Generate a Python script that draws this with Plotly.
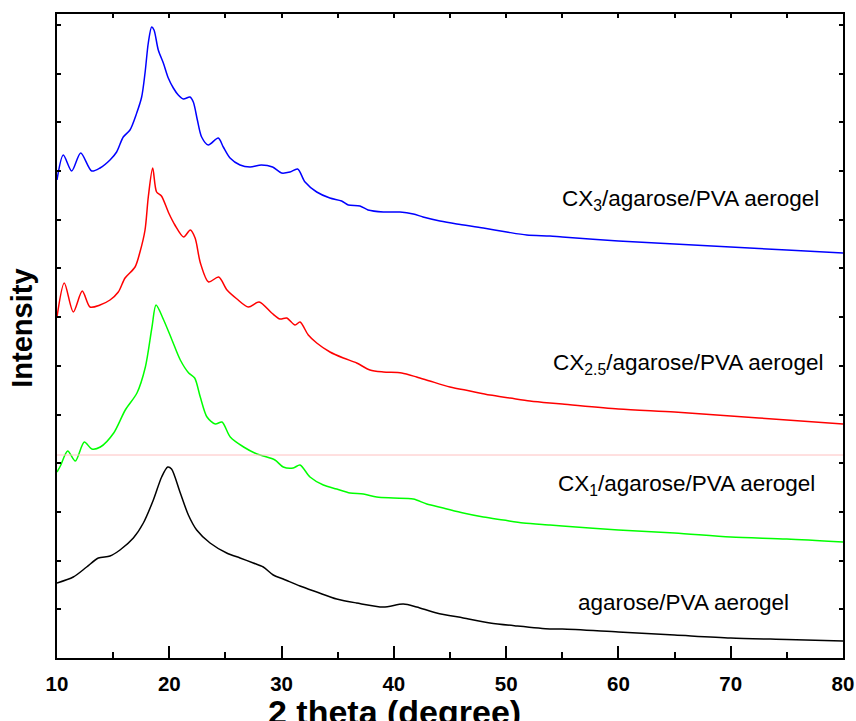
import plotly.graph_objects as go

# ---- data (2 theta in degrees, intensity in arbitrary units) ----
blue_x = [10.0, 10.56, 11.31, 12.11, 13.09, 13.83, 14.72, 15.31, 15.9, 16.5, 17.1, 17.54, 17.84, 18.13, 18.43,
          18.64, 19.02, 19.47, 19.91, 20.36, 20.8, 21.25, 21.84, 22.14, 22.5, 22.88, 23.47, 24.36, 24.81, 25.41,
          26.3, 27.19, 28.2, 29.2, 30.0, 30.75, 31.43, 32.09, 33.13, 34.3, 35.35, 35.94, 36.98, 37.7, 39.06,
          40.55, 41.73, 42.6, 44.1, 45.6, 47.97, 50.05, 51.83, 53.9, 55, 60, 65, 70, 75, 80]
blue_y = [478, 503, 487, 505, 487, 490, 498, 506, 521, 528, 545, 561, 585, 615, 631,
          628, 608, 595, 580, 570, 563, 559, 561, 556, 538, 521, 513, 520, 511, 500,
          493, 491, 493, 491, 485, 486, 489, 476, 466, 460, 457, 453, 452, 448, 446,
          446, 444, 441, 437, 434, 430, 426, 423, 422, 421, 417, 414, 411, 408, 405]

red_x = [10.0, 10.65, 11.45, 12.25, 12.94, 13.83, 14.72, 15.46, 16.06, 16.95, 17.39, 17.84, 18.13, 18.52,
         18.87, 19.3, 19.95, 20.5, 21.28, 21.87, 22.3, 22.77, 23.5, 24.4, 25.14, 26.03, 27.04, 28.0, 29.12,
         29.86, 30.45, 31.2, 31.64, 32.38, 33.13, 34.31, 35.5, 36.69, 37.87, 39.06, 40.7, 42.03, 43.2, 45.0,
         46.78, 48.56, 50.34, 52.12, 53.9, 55, 60, 65, 70, 75, 80]
red_y = [341, 375, 346, 367, 351, 353, 358, 366, 380, 391, 406, 428, 461, 490,
         466, 462, 445, 433, 421, 428, 420, 395, 376, 381, 368, 359, 351, 356, 345,
         339, 340, 333, 336, 323, 315, 306, 300, 295, 288, 286, 285, 281, 277, 271,
         267, 263, 260, 257, 255, 254, 249, 246, 242, 238, 234]

green_x = [10.0, 10.3, 10.95, 11.63, 12.43, 13.1, 13.86, 15.05, 16.08, 17.12, 17.87, 18.46, 18.82, 19.5,
           20.24, 20.98, 21.73, 22.26, 22.76, 23.36, 24.1, 24.69, 25.43, 26.62, 27.81, 28.37, 29.41, 30.15,
           31.04, 31.64, 32.53, 33.72, 34.91, 36.1, 37.28, 38.47, 39.95, 41.73, 42.93, 44.4, 46.18, 47.97,
           49.75, 51.53, 53.9, 55, 60, 65, 70, 75, 80]
green_y = [186, 192, 207, 197, 216, 209, 211, 225, 248, 265, 291, 331, 353, 338,
           318, 298, 285, 280, 261, 241, 234, 236, 221, 211, 204, 202, 198, 191,
           190, 193, 181, 173, 169, 165, 164, 161, 160, 159, 154, 150, 145, 141,
           138, 135, 133, 132, 128, 125, 121, 119, 116]

black_x = [10.0, 11.45, 12.64, 13.68, 14.72, 15.61, 16.8, 17.69, 18.58, 19.32, 19.86, 20.2, 20.95, 21.7,
           22.44, 23.63, 25.11, 26.3, 27.48, 28.37, 29.26, 30.15, 31.64, 33.13, 34.91, 36.69, 39.06, 40.84,
           42.03, 43.81, 46.18, 48.56, 50.94, 53.9, 55, 60, 65, 70, 75, 80]
black_y = [75, 81, 91, 100, 102, 108, 120, 135, 158, 181, 191, 189, 166, 143,
           128, 115, 105, 100, 95, 91, 83, 79, 72, 66, 59, 55, 51, 54,
           51, 45, 40, 35, 32, 29, 29, 26, 23, 20, 18.5, 17]

series = [
    ("agarose/PVA aerogel", black_x, black_y, "#000000"),
    ("CX1/agarose/PVA aerogel", green_x, green_y, "#00ff00"),
    ("CX2.5/agarose/PVA aerogel", red_x, red_y, "#ff0000"),
    ("CX3/agarose/PVA aerogel", blue_x, blue_y, "#0000ff"),
]

labels = [
    ("CX<sub>3</sub>/agarose/PVA aerogel", 54.8, 458),
    ("CX<sub>2.5</sub>/agarose/PVA aerogel", 54.0, 294),
    ("CX<sub>1</sub>/agarose/PVA aerogel", 54.45, 173.5),
    ("agarose/PVA aerogel", 56.25, 56),
]

x_range = [10, 80]
y_range = [0, 644]
y_step = 48.7
ref_line_y = 203

FONT = "Arial, Liberation Sans, sans-serif"

fig = go.Figure()
for name, xs, ys, col in series:
    fig.add_trace(go.Scatter(x=xs, y=ys, mode="lines", name=name,
                             line=dict(color=col, width=1.5, shape="spline", smoothing=0.8),
                             showlegend=False))

# dummy trace to activate the mirror axes
fig.add_trace(go.Scatter(x=[x_range[0]], y=[y_range[0]], xaxis="x2", yaxis="y2",
                         mode="markers", marker=dict(opacity=0), showlegend=False, hoverinfo="skip"))

fig.add_shape(type="line", xref="paper", x0=0, x1=1, yref="y", y0=ref_line_y, y1=ref_line_y,
              line=dict(color="#ffc0c0", width=1))

for txt, lx, ly in labels:
    fig.add_annotation(text=txt, x=lx, y=ly, xref="x", yref="y", xanchor="left", yanchor="middle",
                       showarrow=False, font=dict(family=FONT, size=22.5, color="#000000"))

fig.add_annotation(text="2 theta (degree)", xref="paper", yref="paper", x=0.4288, y=-0.0839,
                   xanchor="center", yanchor="middle", showarrow=False,
                   font=dict(family=FONT, size=34, color="#000000", weight="bold"))
fig.add_annotation(text="Intensity", xref="paper", yref="paper", x=-0.044, y=0.512,
                   xanchor="center", yanchor="middle", textangle=-90, showarrow=False,
                   font=dict(family=FONT, size=29, color="#000000", weight="bold"))

fig.update_layout(
    width=856, height=721, autosize=False,
    margin=dict(l=57, r=13, t=14, b=63, autoexpand=False),
    paper_bgcolor="white", plot_bgcolor="white",
    font=dict(family=FONT, color="#000000"),
    xaxis=dict(range=x_range, dtick=10, tick0=10, ticks="inside", ticklen=12, tickwidth=2,
               tickcolor="#000", showline=True, linecolor="#000", linewidth=2, mirror=True,
               showgrid=False, zeroline=False, automargin=False, ticklabelstandoff=6,
               tickfont=dict(family=FONT, size=20.5, weight="bold"),
               minor=dict(dtick=5, ticks="inside", ticklen=6, tickwidth=2, tickcolor="#000")),
    yaxis=dict(range=y_range, dtick=y_step, tick0=0, ticks="inside", ticklen=4, tickwidth=1.5,
               tickcolor="#000", showline=True, linecolor="#000", linewidth=2, mirror=True,
               showgrid=False, zeroline=False, showticklabels=False, automargin=False),
    xaxis2=dict(range=x_range, overlaying="x", side="top", dtick=5, tick0=10, ticks="inside",
                ticklen=4, tickwidth=1.5, tickcolor="#000", showticklabels=False,
                showgrid=False, zeroline=False, showline=False, automargin=False),
    yaxis2=dict(range=y_range, overlaying="y", side="right", dtick=y_step, tick0=0, ticks="inside",
                ticklen=4, tickwidth=1.5, tickcolor="#000", showticklabels=False,
                showgrid=False, zeroline=False, showline=False, automargin=False),
)

fig.write_html("out.html", config={"displayModeBar": False},
               post_script="document.body.style.margin='0';document.body.style.overflow='hidden';")
